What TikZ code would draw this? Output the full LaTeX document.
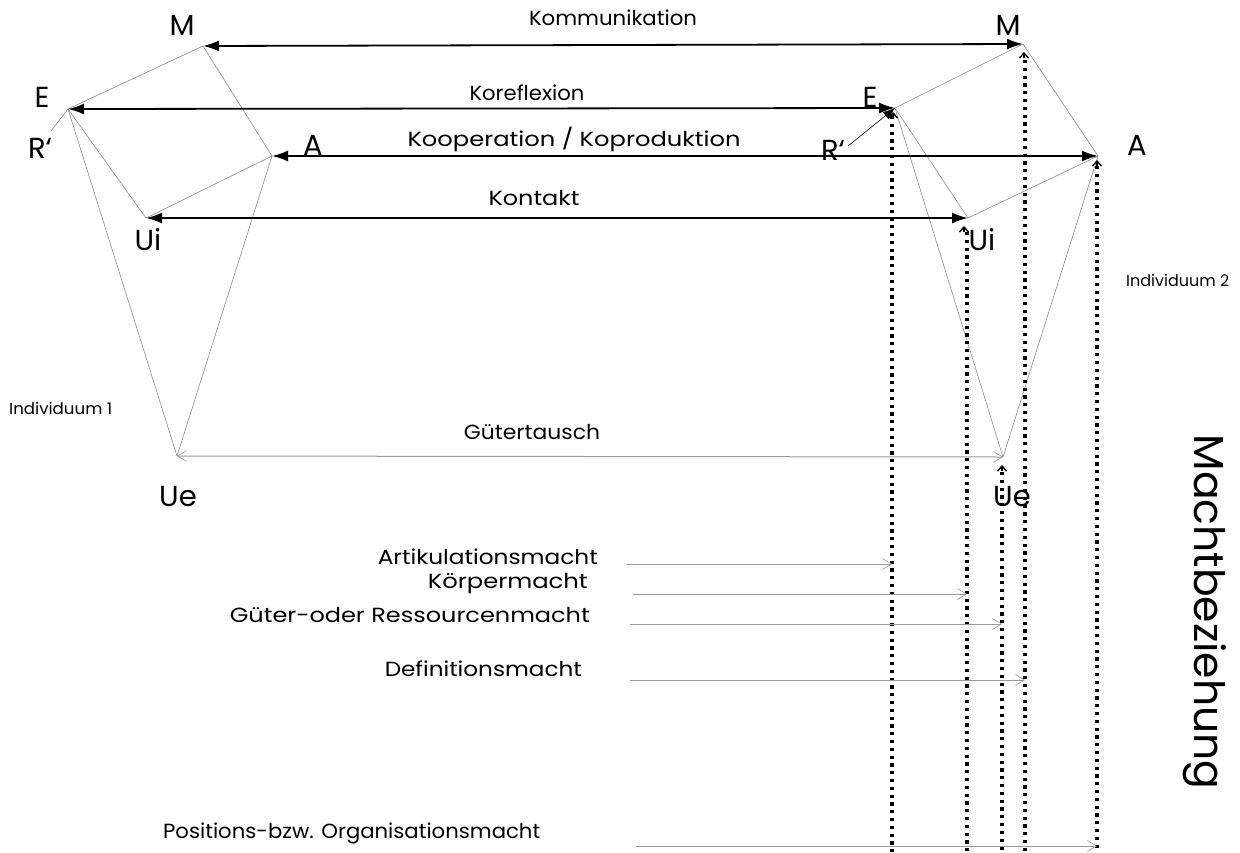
\documentclass[tikz,border=0pt]{standalone}
\usepackage{fontspec}
\usepackage{graphicx}
\setmainfont{Poppins}
\usetikzlibrary{arrows.meta}
\newcommand{\fitw}[2]{\resizebox{#1pt}{\height}{#2}}
\begin{document}
\begin{tikzpicture}[x=1pt,y=-1pt,
  main/.style={line width=1.8pt,{Latex[length=16pt,width=11pt]}-{Latex[length=16pt,width=11pt]}},
  edge/.style={draw=black!45,line width=0.6pt},
  pow/.style={draw=black!40,line width=1pt,-{Straight Barb[length=9pt,width=11pt,line width=0.6pt]}},
  gtausch/.style={draw=black!40,line width=1pt,{Straight Barb[length=9pt,width=11pt,line width=0.6pt]}-{Straight Barb[length=9pt,width=11pt,line width=0.6pt]}},
  dotl/.style={line width=3.2pt,dash pattern=on 3.2pt off 4.6pt},
  caret/.style={line width=1.5pt,{Straight Barb[length=5pt,width=9pt,line width=1.4pt]}-},
  lab/.style={font=\fontsize{20.5}{24}\selectfont,inner sep=0pt},
  pt/.style={font=\fontsize{29}{34}\selectfont,inner sep=0pt},
  small/.style={font=\fontsize{16}{18}\selectfont,inner sep=0pt}]
\useasboundingbox (0,0) rectangle (1240,852);
% points individual 1
\coordinate (M1) at (203,46);
\coordinate (E1) at (68,109);
\coordinate (R1) at (51,131);
\coordinate (A1) at (272,156);
\coordinate (Ui1) at (146,218);
\coordinate (Ue1) at (177,456);
% points individual 2
\coordinate (M2) at (1023,44);
\coordinate (E2) at (895,108);
\coordinate (R2) at (848,146);
\coordinate (A2) at (1098,156);
\coordinate (Ui2) at (968,218);
\coordinate (Ue2) at (1003,457);
% graph edges
\draw[edge] (M1) -- (E1);
\draw[edge] (M1) -- (A1);
\draw[edge] (E1) -- (Ui1);
\draw[edge] (A1) -- (Ui1);
\draw[edge] (E1) -- (Ue1);
\draw[edge] (A1) -- (Ue1);
\draw[edge] (R1) -- (E1);
\draw[edge] (M2) -- (E2);
\draw[edge] (M2) -- (A2);
\draw[edge] (E2) -- (Ui2);
\draw[edge] (A2) -- (Ui2);
\draw[edge] (E2) -- (Ue2);
\draw[edge] (A2) -- (Ue2);
\draw[edge,-{Latex[length=12pt,width=9pt]},black] (R2) -- (E2);
% labels of points
\node[pt] (lM1) at (182,25) {M};
\node[pt] (lE1) at (42,97) {E};
\node[pt] (lR1) at (40,148) {R`};
\node[pt] (lA1) at (313,145) {A};
\node[pt] (lUi1) at (148,240) {Ui};
\node[pt] (lUe1) at (178,497) {Ue};
\node[pt] (lM2) at (1008,25) {M};
\node[pt] (lE2) at (870,97) {E};
\node[pt] (lR2) at (833,150) {R`};
\node[pt] (lA2) at (1137,145) {A};
\node[pt] (lUi2) at (982,240) {Ui};
\node[pt] (lUe2) at (1012,497) {Ue};
% dotted lines
\coordinate (dE) at (892,852);
\coordinate (dUi) at (967,852);
\coordinate (dM) at (1025,852);
\coordinate (dUe) at (1002,852);
\coordinate (dA) at (1097,852);
\draw[dotl] (892,116) -- (dE);
\draw[dotl] (967,232) -- (dUi);
\draw[dotl] (1025,60) -- (dM);
\draw[dotl] (1002,472) -- (dUe);
\draw[dotl] (1097,166) -- (dA);
\draw[caret] (1024,52) -- (1024,58);
\draw[caret] (1097,160) -- (1097,166);
\draw[caret] (964,226) -- (964,232);
\draw[caret] (1002,465) -- (1002,471);
\draw[caret] (893,112) -- (893,118);
% main arrows
\draw[main] (M1) -- (M2);
\node[lab] (tKom) at (613,18) {\fitw{168}{Kommunikation}};
\draw[main] (E1) -- (E2);
\node[lab] (tKor) at (527,93) {\fitw{115}{Koreflexion}};
\draw[main] (A1) -- (A2);
\node[lab] (tKoo) at (574,140) {\fitw{333}{Kooperation / Koproduktion}};
\draw[main] (Ui1) -- (Ui2);
\node[lab] (tKon) at (534,198) {\fitw{91}{Kontakt}};
\draw[gtausch] (Ue1) -- (Ue2);
\node[lab] (tGut) at (532,432) {\fitw{136}{Gütertausch}};
% power arrows
\node[lab,anchor=east] (tArt) at (598,557) {\fitw{220}{Artikulationsmacht}};
\node[lab,anchor=east] (tKoe) at (588,584) {\fitw{160}{Körpermacht}};
\node[lab,anchor=east] (tGue) at (590,615) {\fitw{360}{Güter-oder Ressourcenmacht}};
\node[lab,anchor=east] (tDef) at (582,669) {\fitw{197}{Definitionsmacht}};
\node[lab,anchor=west] (tPos) at (163,833) {\fitw{377}{Positions-bzw. Organisationsmacht}};
\coordinate (sArt) at (627,564);
\coordinate (sKoe) at (633,594);
\coordinate (sGue) at (630,624);
\coordinate (sDef) at (630,680);
\coordinate (sPos) at (636,846);
\draw[pow] (sArt) -- (dE |- sArt);
\draw[pow] (sKoe) -- (dUi |- sKoe);
\draw[pow] (sGue) -- (dUe |- sGue);
\draw[pow] (sDef) -- (dM |- sDef);
\draw[pow] (sPos) -- (dA |- sPos);
% other labels
\node[small,anchor=west] (ind1) at (9,408) {\fitw{103}{Individuum 1}};
\node[small,anchor=west] (ind2) at (1126,280) {\fitw{103}{Individuum 2}};
\node[font=\fontsize{42}{46}\selectfont,rotate=-90,inner sep=0pt] (macht) at (1205,612) {\fitw{355}{Machtbeziehung}};
\end{tikzpicture}
\end{document}
